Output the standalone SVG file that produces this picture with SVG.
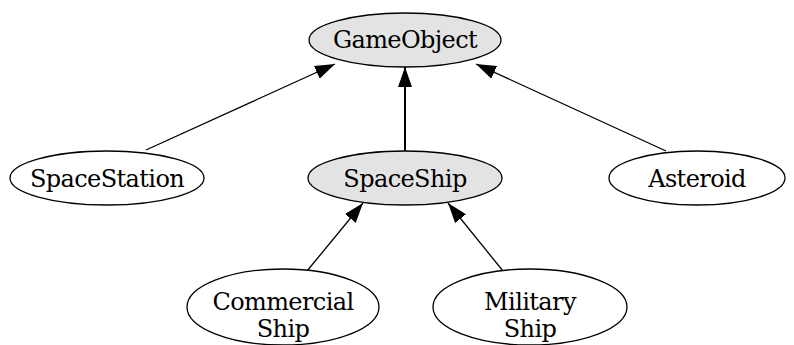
<svg xmlns="http://www.w3.org/2000/svg" width="794" height="345" viewBox="0 0 794 345">
<style>
.n ellipse{stroke:#000;stroke-width:1.3}
.plain{fill:#fff}
.gray{fill:#e3e3e3}
text{font-family:"DejaVu Serif","Liberation Serif",serif;font-size:24px;letter-spacing:-0.6px;fill:#000;text-anchor:middle}
.e line{stroke:#000;stroke-width:1.3}
</style>
<defs>
<marker id="ah" markerWidth="20" markerHeight="14" refX="20" refY="7" orient="auto" markerUnits="userSpaceOnUse">
<path d="M0,0 L20,7 L0,14 Z" fill="#000"/>
</marker>
</defs>
<rect width="794" height="345" fill="#fff"/>
<g class="e">
<line x1="146" y1="150" x2="335" y2="64" marker-end="url(#ah)"/>
<line x1="405" y1="151" x2="405" y2="67" marker-end="url(#ah)" style="stroke-width:2"/>
<line x1="666" y1="151" x2="476" y2="64" marker-end="url(#ah)"/>
<line x1="307" y1="271" x2="363" y2="203" marker-end="url(#ah)"/>
<line x1="503" y1="271" x2="448" y2="203" marker-end="url(#ah)"/>
</g>
<g id="GameObject" class="n"><ellipse class="gray" cx="405" cy="40" rx="96" ry="27"/><text x="405" y="48">GameObject</text></g>
<g id="SpaceStation" class="n"><ellipse class="plain" cx="107" cy="178" rx="97" ry="27"/><text x="107" y="187">SpaceStation</text></g>
<g id="SpaceShip" class="n"><ellipse class="gray" cx="405" cy="178" rx="97" ry="27"/><text x="405" y="187">SpaceShip</text></g>
<g id="Asteroid" class="n"><ellipse class="plain" cx="697" cy="178" rx="88" ry="27"/><text x="697" y="187">Asteroid</text></g>
<g id="CommercialShip" class="n"><ellipse class="plain" cx="283" cy="307" rx="96" ry="38"/><text x="283" y="310">Commercial</text><text x="283" y="337">Ship</text></g>
<g id="MilitaryShip" class="n"><ellipse class="plain" cx="530" cy="307" rx="97" ry="38"/><text x="530" y="310">Military</text><text x="530" y="337">Ship</text></g>
</svg>
